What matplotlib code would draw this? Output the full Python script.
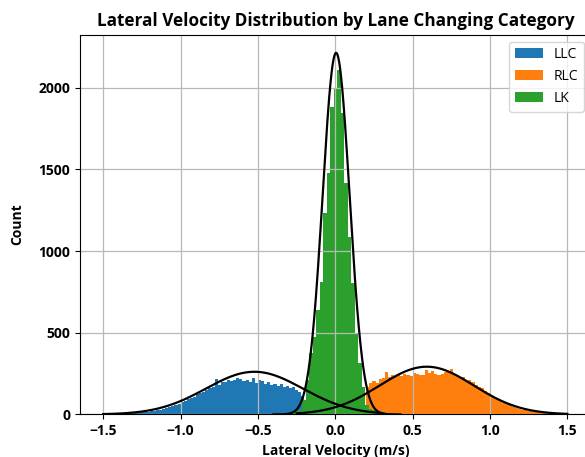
import matplotlib.pyplot as plt
import numpy as np

plt.rcParams['font.family'] = ['Open Sans', 'DejaVu Sans']

# histogram counts (bin width / first left edge per category)
llc_start, llc_width = -1.50, 0.02
llc_counts = [1, 1, 2, 2, 3, 3, 4, 5, 6, 7, 9, 10, 12, 14, 16, 19, 22, 26, 30, 36,
              42, 45, 50, 58, 64, 75, 82, 95, 100, 108, 125, 132, 140, 148, 160, 168,
              216, 180, 200, 196, 208, 203, 210, 221, 218, 205, 210, 200, 222, 192,
              210, 205, 188, 196, 180, 188, 175, 185, 170, 172, 160, 165, 150, 140, 110]

rlc_start, rlc_width = 0.20, 0.02
rlc_counts = [165, 195, 205, 190, 215, 220, 261, 232, 240, 236, 245, 238, 250, 242,
              236, 252, 245, 240, 243, 272, 255, 268, 250, 241, 245, 258, 262, 276,
              245, 236, 232, 228, 205, 212, 200, 178, 168, 160, 142, 130, 118, 105,
              95, 82, 72, 62, 55, 48, 40, 35, 30, 26, 22, 18, 15, 12, 10, 8, 6, 5,
              4, 3, 2, 1, 1]

lk_start, lk_width = -0.4375, 0.0225
lk_counts = [3, 4, 5, 6, 8, 10, 12, 15, 20, 30, 88, 210, 375, 476, 639, 812, 1233,
             1477, 1883, 1990, 2108, 1845, 1416, 1088, 804, 498, 315, 170, 60, 35,
             25, 20, 15, 12, 9, 6, 4, 2]

# fitted normal curves: mean, std, peak count, x range
fits = {
    'LLC': (-0.523, 0.313, 261, -1.5, 0.3),
    'RLC': (0.591, 0.304, 292, -0.25, 1.5),
    'LK': (0.005, 0.087, 2213, -0.4, 0.42),
}

fig = plt.figure(figsize=(5.85, 4.57), dpi=100)
ax = fig.add_axes([0.1368, 0.0932, 0.8728, 0.8309])

groups = [('LLC', llc_start, llc_width, llc_counts, 'tab:blue'),
          ('RLC', rlc_start, rlc_width, rlc_counts, 'tab:orange'),
          ('LK', lk_start, lk_width, lk_counts, 'tab:green')]

for name, start, width, counts, color in groups:
    lefts = start + width * np.arange(len(counts))
    ax.bar(lefts, counts, width=width, align='edge', color=color,
           linewidth=0, label=name)

for name, (mu, sd, peak, x0, x1) in fits.items():
    xs = np.linspace(x0, x1, 300)
    ax.plot(xs, peak * np.exp(-0.5 * ((xs - mu) / sd) ** 2), color='black', lw=1.6)

ax.set_xlim(-1.65, 1.65)
ax.set_ylim(0, 2324)
ax.set_xticks([-1.5, -1.0, -0.5, 0.0, 0.5, 1.0, 1.5])
ax.set_yticks([0, 500, 1000, 1500, 2000])
ax.grid(True, color='#b8b8b8', lw=0.9)
for lab in ax.get_xticklabels() + ax.get_yticklabels():
    lab.set_fontweight('bold')
ax.tick_params(labelsize=10)

ax.set_xlabel('Lateral Velocity (m/s)', fontweight='bold', fontsize=10)
ax.set_ylabel('Count', fontweight='bold', fontsize=10, labelpad=10)
ax.set_title('Lateral Velocity Distribution by Lane Changing Category',
             fontweight='bold', fontsize=12.3)
ax.legend(loc='upper right', fontsize=10)

fig.savefig('out.png', dpi=100)
